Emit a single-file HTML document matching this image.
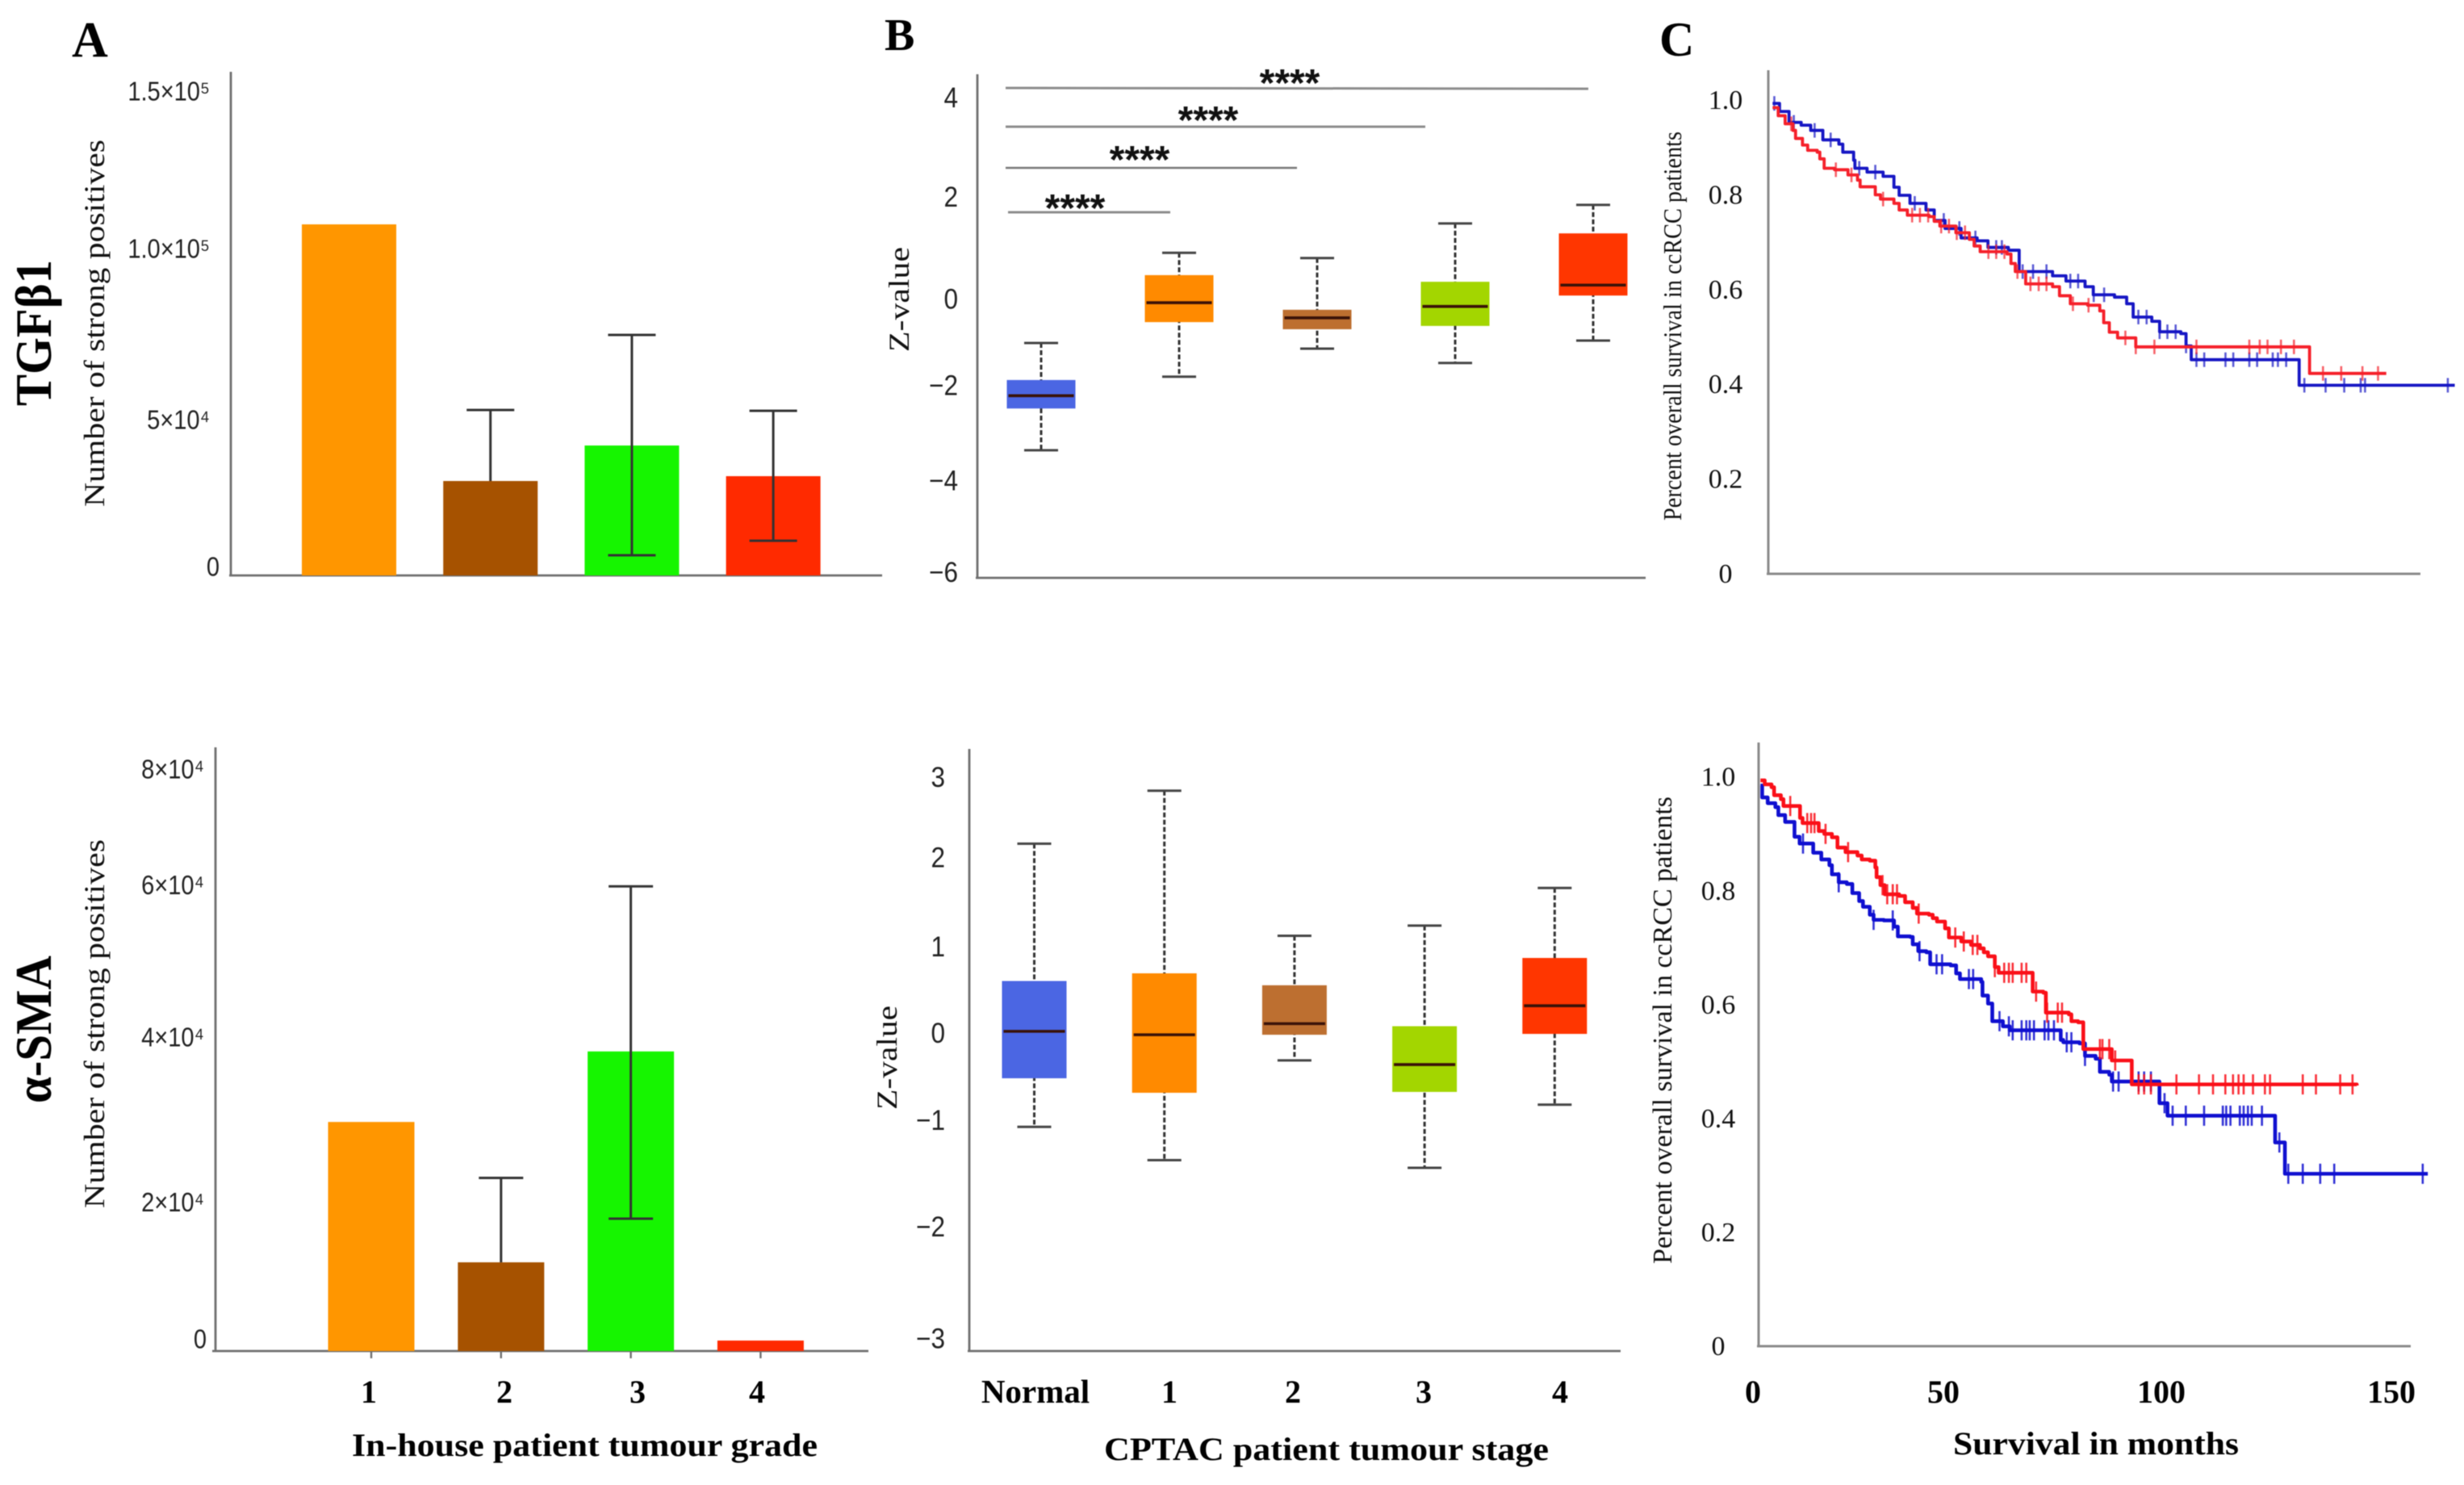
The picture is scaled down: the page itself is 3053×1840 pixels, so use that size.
<!DOCTYPE html>
<html lang="en">
<head>
<meta charset="utf-8">
<title>TGFβ1 and α-SMA by tumour grade, stage and survival</title>
<style>
html,body{margin:0;padding:0;background:#fff;}
svg{display:block;filter:blur(0.6px);}
.serif{font-family:"Liberation Serif",serif;fill:#111;}
.sans{font-family:"Liberation Sans",sans-serif;fill:#222;}
.bold{font-weight:bold;fill:#000;}
.axis{stroke:#6f6f6f;stroke-width:2.8;fill:none;}
.axisl{stroke:#8a8a8a;stroke-width:3;fill:none;}
.sig{stroke:#8c8c8c;stroke-width:3;}
.stars{font-family:"Liberation Sans",sans-serif;font-weight:bold;font-size:48px;fill:#111;text-anchor:middle;}
</style>
</head>
<body>
<svg id="fig" xmlns="http://www.w3.org/2000/svg" width="3053" height="1840" viewBox="0 0 3053 1840">
  <rect width="3053" height="1840" fill="#fff"/>

  <text class="serif bold" x="89" y="70" font-size="62">A</text>
  <text class="serif bold" x="1096" y="62" font-size="56">B</text>
  <text class="serif bold" x="2056" y="69" font-size="60">C</text>

  <text class="serif bold" font-size="64" textLength="181" lengthAdjust="spacingAndGlyphs" transform="translate(63,503) rotate(-90)">TGFβ1</text>
  <text class="serif bold" font-size="64" textLength="183" lengthAdjust="spacingAndGlyphs" transform="translate(63,1367) rotate(-90)">α-SMA</text>

  <!-- Panel A axes and titles -->
  <path class="axis" d="M286 89V713M284 713H1093"/>
  <text class="serif" font-size="36" textLength="455" lengthAdjust="spacingAndGlyphs" transform="translate(129,628) rotate(-90)">Number of strong positives</text>
  <path class="axis" d="M267 926V1674M263 1674H1076"/>
  <text class="serif" font-size="36" textLength="457" lengthAdjust="spacingAndGlyphs" transform="translate(129,1497) rotate(-90)">Number of strong positives</text>
  <text class="serif bold" font-size="40" text-anchor="middle" x="457" y="1738">1</text>
  <text class="serif bold" font-size="40" text-anchor="middle" x="625" y="1738">2</text>
  <text class="serif bold" font-size="40" text-anchor="middle" x="790" y="1738">3</text>
  <text class="serif bold" font-size="40" text-anchor="middle" x="938" y="1738">4</text>
  <text class="serif bold" font-size="40" x="436" y="1804" textLength="577" lengthAdjust="spacingAndGlyphs">In-house patient tumour grade</text>

  <!-- Panel B axes and titles -->
  <path class="axis" d="M1211 92V716M1209 716H2039"/>
  <text class="serif" font-size="36" textLength="130" lengthAdjust="spacingAndGlyphs" transform="translate(1126,436) rotate(-90)">Z-value</text>
  <line class="sig" x1="1246" y1="109" x2="1968" y2="110"/>
  <text class="stars" x="1598" y="119">****</text>
  <line class="sig" x1="1246" y1="157" x2="1766" y2="157"/>
  <text class="stars" x="1497" y="165">****</text>
  <line class="sig" style="stroke:#777;stroke-width:2.4" x1="1246" y1="208" x2="1607" y2="208"/>
  <text class="stars" x="1412" y="214">****</text>
  <line class="sig" x1="1249" y1="263" x2="1450" y2="263"/>
  <text class="stars" x="1332" y="274">****</text>

  <path class="axis" d="M1201 928V1674M1199 1674H2008"/>
  <text class="serif" font-size="36" textLength="129" lengthAdjust="spacingAndGlyphs" transform="translate(1111,1375) rotate(-90)">Z-value</text>
  <text class="serif bold" font-size="41" text-anchor="middle" x="1283" y="1738">Normal</text>
  <text class="serif bold" font-size="40" text-anchor="middle" x="1449" y="1738">1</text>
  <text class="serif bold" font-size="40" text-anchor="middle" x="1602" y="1738">2</text>
  <text class="serif bold" font-size="40" text-anchor="middle" x="1764" y="1738">3</text>
  <text class="serif bold" font-size="40" text-anchor="middle" x="1933" y="1738">4</text>
  <text class="serif bold" font-size="40" x="1368" y="1809" textLength="551" lengthAdjust="spacingAndGlyphs">CPTAC patient tumour stage</text>

  <!-- Panel C axes and titles -->
  <path class="axisl" d="M2191 87V711M2189 711H2999"/>
  <text class="serif" font-size="32" textLength="482" lengthAdjust="spacingAndGlyphs" transform="translate(2083,645) rotate(-90)">Percent overall survival in ccRCC patients</text>
  <path class="axisl" d="M2179 920V1668M2177 1668H2987"/>
  <text class="serif" font-size="34" textLength="579" lengthAdjust="spacingAndGlyphs" transform="translate(2071,1566) rotate(-90)">Percent overall survival in ccRCC patients</text>
  <text class="serif bold" font-size="40" text-anchor="middle" x="2172" y="1738">0</text>
  <text class="serif bold" font-size="40" text-anchor="middle" x="2408" y="1738">50</text>
  <text class="serif bold" font-size="40" text-anchor="middle" x="2678" y="1738">100</text>
  <text class="serif bold" font-size="40" text-anchor="middle" x="2963" y="1738">150</text>
  <text class="serif bold" font-size="40" x="2420" y="1802" textLength="354" lengthAdjust="spacingAndGlyphs">Survival in months</text>

  <g id="marks"></g>
</svg>

<script>
// ---------- Panel A, TGFb1 bar chart ----------
const a1Values = [108750, 29250, 40250, 30750];
const a1ErrHigh = [null, 51250, 74500, 51000];
const a1ErrLow = [null, null, 6250, 10750];
const a1TickAnchors = [2750, 48250, 101250, 150000];
const a1TickLabels = ['0', '5×10⁴', '1.0×10⁵', '1.5×10⁵'];

// ---------- Panel A, a-SMA bar chart ----------
const a2Values = [31500, 12200, 41200, 1440];
const a2ErrHigh = [null, 23800, 63900, null];
const a2ErrLow = [null, null, 18200, null];
const a2TickAnchors = [1660, 20500, 43200, 64100, 80000];
const a2TickLabels = ['0', '2×10⁴', '4×10⁴', '6×10⁴', '8×10⁴'];
const barColors = ['#ff9600', '#a65200', '#16f500', '#ff2a00'];

// ---------- Panel B, TGFb1 box plot ----------
const b1High = [-1.17, 0.73, 0.62, 1.35, 1.74];
const b1Q3 = [-1.95, 0.26, -0.47, 0.12, 1.14];
const b1Median = [-2.28, -0.32, -0.64, -0.40, 0.05];
const b1Q1 = [-2.55, -0.73, -0.88, -0.81, -0.17];
const b1Low = [-3.43, -1.88, -1.29, -1.59, -1.12];
const b1TickAnchors = [4, 1.91, -0.24, -2.06, -4.07, -6];
const b1TickLabels = ['4', '2', '0', '−2', '−4', '−6'];

// ---------- Panel B, a-SMA box plot ----------
const b2High = [2.22, 2.84, 1.14, 1.26, 1.70];
const b2Q3 = [0.61, 0.70, 0.56, 0.08, 0.88];
const b2Median = [0.02, -0.02, 0.11, -0.37, 0.32];
const b2Q1 = [-0.53, -0.70, -0.02, -0.69, -0.01];
const b2Low = [-1.10, -1.49, -0.32, -1.58, -0.84];
const b2TickAnchors = [3, 2.06, 1.01, 0, -1.02, -2.27, -3.58];
const b2TickLabels = ['3', '2', '1', '0', '−1', '−2', '−3'];
const boxColors = ['#4b66e3', '#ff8a00', '#bd6f30', '#a3d600', '#ff3600'];

// ---------- Panel C, TGFb1 survival ----------
const c1RedMonths = [0,1.3,2.9,4.7,5.3,6.9,8.1,10.3,10.9,11.9,14.3,17.4,19.6,20.2,23.7,24.9,28,29.2,31.1,36.1,37.3,38.6,42.3,45.4,46.5,47.9,54.1,55,56,58.4,64.6,66.2,68.7,72.7,75.5,76.4,77.7,79.6,83.8,123.9,141.6];
const c1RedSurvival = [.984,.967,.950,.936,.919,.905,.894,.890,.876,.856,.853,.842,.831,.817,.800,.791,.782,.768,.757,.754,.744,.734,.720,.706,.692,.680,.675,.655,.638,.612,.606,.587,.570,.567,.555,.530,.510,.498,.479,.423,.423];
const c1RedCensored = [4.3,14.6,18.2,25.5,32.2,34,35.9,38.9,40.7,42.5,44.4,49.8,51.6,53.5,56.5,59.5,61.4,63.2,69.3,72.9,81.4,83.8,88.1,97.8,110,112.4,114.2,117.3,120.3,127,131.2,136.1,139.7];
const c1BlueMonths = [0,1.6,3.8,6.6,8.8,11.6,15.3,16.2,18.7,19,21.8,25.5,28,29.2,31.7,35.4,37.3,39.8,43.5,47.2,49.7,54.4,56.9,64.6,67.7,72.1,74,78.9,81.7,83.2,87.5,89.3,94.2,95.4,96.6,121.5,157.4];
const c1BlueSurvival = [.993,.976,.953,.947,.936,.916,.907,.890,.873,.856,.848,.839,.816,.799,.782,.768,.746,.729,.709,.703,.689,.683,.638,.629,.618,.606,.589,.584,.570,.542,.533,.511,.507,.481,.452,.398,.398];
const c1BlueCensored = [.4,4.9,9.7,13.4,20,23.7,32.8,39.5,43.1,46.8,51.6,52.9,57.7,60.1,63.2,68.7,70.5,74.1,76.5,84.4,86.3,89.3,91.1,93,95.4,97.8,99.6,104.5,106.3,110,111.8,115.4,116.6,118.5,122.7,127.6,131.9,135.7,136.7,155.8];

// ---------- Panel C, a-SMA survival ----------
const c2RedMonths = [0,1,2.6,3.2,4.8,5.4,9.3,9.9,13.7,15,16.8,18.1,20,22.8,23.8,25.7,27,27.3,28.2,29.2,32.6,34,35.8,36.8,39.6,40.5,41.5,43.4,44.3,47.2,49.5,51.6,52.5,53.5,55.1,56,64,66.5,67.1,72.5,73.1,74.7,75.9,82.6,87.3,140.2];
const c2RedSurvival = [.994,.987,.982,.968,.961,.949,.928,.919,.905,.900,.894,.876,.868,.862,.855,.853,.841,.824,.810,.794,.791,.780,.770,.760,.758,.752,.746,.734,.718,.711,.705,.699,.692,.685,.666,.656,.623,.621,.586,.583,.571,.569,.522,.502,.460,.458];
const c2RedCensored = [7,11,11.9,12.7,15.3,20.6,28.7,29.8,31.1,32.1,37.2,45.8,47.8,49.9,51,55.1,57.3,58.4,59.3,61.4,62.5,64.8,67.4,69.9,70.9,79.8,80.4,82,83.4,88.9,90.2,91.8,97.8,103.1,106.4,109.3,111.1,112.4,113.6,115.8,118.6,119.8,127.5,130.6,136.3,139.2];
const c2BlueMonths = [0,.4,1.7,3.5,4.2,5.8,8,9.2,12.4,14.3,16.2,16.8,18.4,20.3,21.6,23.2,24.1,25.7,26.6,29,31.4,32.3,35.2,35.8,37.1,39,39.9,44.7,46,46.9,51.9,52.2,53.5,54.5,57,58.6,70.6,71.2,75,76.3,78.8,79.8,82,82.6,93.8,95.7,121,123.3,156.9];
const c2BlueSurvival = [.985,.964,.954,.947,.933,.921,.895,.883,.867,.855,.845,.829,.815,.812,.796,.782,.772,.758,.749,.748,.737,.720,.719,.706,.694,.692,.671,.669,.655,.645,.640,.616,.602,.571,.562,.555,.538,.534,.532,.510,.505,.482,.477,.465,.427,.405,.358,.303,.303];
const c2BlueCensored = [10,18.4,26.6,31.1,37.4,41.4,42.7,49,50,56.2,58.4,59.3,61.4,62.5,63.3,64.3,66.8,67.7,69,72,73.1,76.3,82.9,84.2,88.9,90.2,91.8,95,96.9,100,104.3,108.7,109.5,110.5,112.7,113.6,114.6,115.5,117.9,122,124.1,127.5,131.6,134.9,155.7];
const survivalTicks = [1, 0.8, 0.6, 0.4, 0.2, 0];
const survivalTickLabels = ['1.0', '0.8', '0.6', '0.4', '0.2', '0'];

// ---------- drawing ----------
const NS = 'http://www.w3.org/2000/svg';
const root = document.getElementById('marks');

function make(tag, props) {
  const el = document.createElementNS(NS, tag);
  for (const k in props) el.setAttribute(k, props[k]);
  
  root.appendChild(el);
  return el;
}

function barChart(cfg) {
  const y = cfg.scale;
  cfg.values.forEach(function (v, i) {
    const cx = cfg.band(i);
    const bar = make('rect', {x: cx - cfg.width / 2, y: y(v), width: cfg.width, height: y(0) - y(v), fill: barColors[i]});
    
    if (cfg.high[i] !== null) {
      const bottom = cfg.low[i] !== null ? cfg.low[i] : v;
      const stem = make('line', {x1: cx, x2: cx, y1: y(cfg.high[i]), y2: y(bottom), stroke: '#333', 'stroke-width': 3});
      
      const capHigh = make('line', {x1: cx - cfg.cap, x2: cx + cfg.cap, y1: y(cfg.high[i]), y2: y(cfg.high[i]), stroke: '#333', 'stroke-width': 3});
      
      if (cfg.low[i] !== null) {
        const capLow = make('line', {x1: cx - cfg.cap, x2: cx + cfg.cap, y1: y(cfg.low[i]), y2: y(cfg.low[i]), stroke: '#333', 'stroke-width': 3});
        
      }
    }
  });
  cfg.tickAnchors.forEach(function (v, i) {
    const zero = cfg.tickLabels[i] === '0';
    const tx = zero ? cfg.zeroRight : cfg.right;
    const label = make('text', {transform: 'translate(' + tx + ',' + (y(v) + 11.5) + ') scale(0.88,1)', 'font-size': 33, 'text-anchor': 'end', class: 'sans'});
    label.textContent = cfg.tickLabels[i];
    
  });
}

function boxChart(cfg) {
  const y = cfg.scale;
  cfg.median.forEach(function (m, i) {
    const cx = cfg.band(i);
    const whisker = make('line', {x1: cx, x2: cx, y1: y(cfg.high[i]), y2: y(cfg.low[i]), stroke: '#333', 'stroke-width': 3, 'stroke-dasharray': '6 3'});
    
    const capHigh = make('line', {x1: cx - 21, x2: cx + 21, y1: y(cfg.high[i]), y2: y(cfg.high[i]), stroke: '#444', 'stroke-width': 3});
    
    const capLow = make('line', {x1: cx - 21, x2: cx + 21, y1: y(cfg.low[i]), y2: y(cfg.low[i]), stroke: '#444', 'stroke-width': 3});
    
    const box = make('rect', {x: cx - cfg.width / 2, y: y(cfg.q3[i]), width: cfg.width, height: y(cfg.q1[i]) - y(cfg.q3[i]), fill: boxColors[i]});
    
    const med = make('line', {x1: cx - cfg.width / 2 + 2, x2: cx + cfg.width / 2 - 2, y1: y(m), y2: y(m), stroke: '#3a1208', 'stroke-width': 3.6});
    
  });
  cfg.tickAnchors.forEach(function (v, i) {
    const label = make('text', {transform: 'translate(' + cfg.right + ',' + (y(v) + 12) + ') scale(0.9,1)', 'font-size': 35, 'text-anchor': 'end', class: 'sans'});
    label.textContent = cfg.tickLabels[i];
    
  });
}

function survivalAt(months, survival, m) {
  let s = survival[0];
  for (let i = 0; i < months.length; i++) { if (months[i] <= m) s = survival[i]; }
  return s;
}

function stepCurve(xs, ys, months, survival, censored, color, style) {
  let d = 'M' + xs(months[0]) + ' ' + ys(survival[0]);
  for (let i = 1; i < months.length; i++) {
    d += 'H' + xs(months[i]) + 'V' + ys(survival[i]);
  }
  const curve = make('path', {d: d, fill: 'none', stroke: color, 'stroke-width': style.lineWidth, 'stroke-linejoin': 'round'});
  
  censored.forEach(function (m) {
    const yy = ys(survivalAt(months, survival, m));
    const mark = make('line', {x1: xs(m), x2: xs(m), y1: yy - style.markHalf, y2: yy + style.markHalf, stroke: color, 'stroke-width': 2.6, opacity: style.markOpacity});
    
  });
}

function survivalTickText(ys, cx) {
  survivalTicks.forEach(function (v, i) {
    const label = make('text', {x: cx, y: ys(v) + 11, 'font-size': 34, 'text-anchor': 'middle', class: 'serif'});
    label.textContent = survivalTickLabels[i];
    
  });
}

// Panel A
barChart({
  values: a1Values, high: a1ErrHigh, low: a1ErrLow,
  tickAnchors: a1TickAnchors, tickLabels: a1TickLabels,
  scale: function (v) { return 713 - v * 0.004; },
  band: function (i) { return 432.5 + 175.2 * i; },
  width: 117, cap: 29.5, right: 260, zeroRight: 272
});
barChart({
  values: a2Values, high: a2ErrHigh, low: a2ErrLow,
  tickAnchors: a2TickAnchors, tickLabels: a2TickLabels,
  scale: function (v) { return 1674 - v * 0.00901; },
  band: function (i) { return 460 + 160.8 * i; },
  width: 107, cap: 27.5, right: 253, zeroRight: 256
});
[0, 1, 2, 3].forEach(function (i) {
  const x = 460 + 160.8 * i;
  const tick = make('line', {x1: x, x2: x, y1: 1674, y2: 1683, stroke: '#6f6f6f', 'stroke-width': 2.4});
  
});

// Panel B
boxChart({
  high: b1High, q3: b1Q3, median: b1Median, q1: b1Q1, low: b1Low,
  tickAnchors: b1TickAnchors, tickLabels: b1TickLabels,
  scale: function (z) { return 356.2 - z * 58.8; },
  band: function (i) { return 1290 + 171 * i; },
  width: 85, right: 1187
});
boxChart({
  high: b2High, q3: b2Q3, median: b2Median, q1: b2Q1, low: b2Low,
  tickAnchors: b2TickAnchors, tickLabels: b2TickLabels,
  scale: function (z) { return 1280 - z * 105.7; },
  band: function (i) { return 1281.5 + 161.2 * i; },
  width: 80, right: 1171
});

// Panel C
const c1X = function (m) { return 2196.3 + m * 5.37; };
const c1Y = function (s) { return 711 - s * 587; };
const c2X = function (m) { return 2181.3 + m * 5.27; };
const c2Y = function (s) { return 1668.1 - s * 705.4; };
const c1Style = {lineWidth: 3.8, markHalf: 9, markOpacity: 0.7};
const c2Style = {lineWidth: 4.6, markHalf: 12.5, markOpacity: 0.85};
survivalTickText(c1Y, 2138);
survivalTickText(c2Y, 2129);
stepCurve(c1X, c1Y, c1BlueMonths, c1BlueSurvival, c1BlueCensored, '#1616c4', c1Style);
stepCurve(c1X, c1Y, c1RedMonths, c1RedSurvival, c1RedCensored, '#f5202a', c1Style);
stepCurve(c2X, c2Y, c2BlueMonths, c2BlueSurvival, c2BlueCensored, '#0f0fd0', c2Style);
stepCurve(c2X, c2Y, c2RedMonths, c2RedSurvival, c2RedCensored, '#fa0f18', c2Style);
</script>
</body>
</html>
